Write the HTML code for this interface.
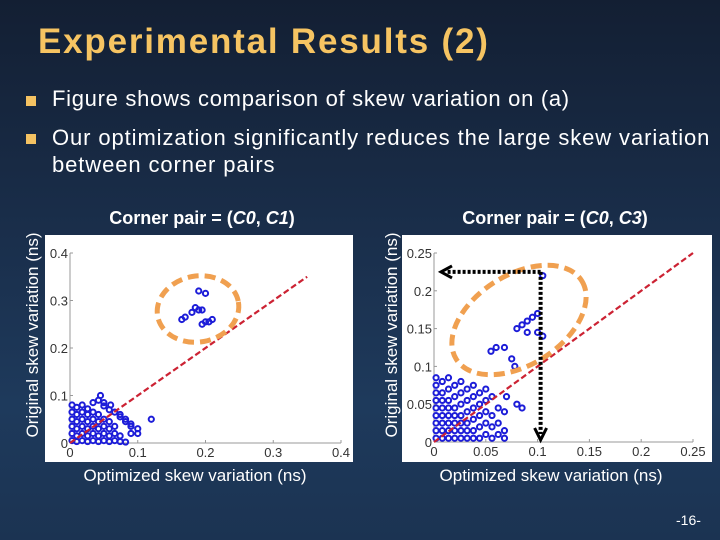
<!DOCTYPE html>
<html><head><meta charset="utf-8"><style>
html,body{margin:0;padding:0}
body{width:720px;height:540px;overflow:hidden;position:relative;background:linear-gradient(180deg,#131f33 0%,#1a2f4c 45%,#1e3a5c 75%,#1b3352 100%);font-family:"Liberation Sans",sans-serif}
.t{position:absolute;white-space:nowrap}
.bul{position:absolute;width:10px;height:10px;background:#f4c262}
</style></head><body>
<div class="t" style="left:38px;top:22px;font-size:35px;font-weight:bold;color:#f6c462;letter-spacing:1.8px">Experimental Results (2)</div>
<div class="bul" style="left:26px;top:96px"></div>
<div class="t" style="left:52px;top:86px;font-size:22px;color:#fff;letter-spacing:0.7px">Figure shows comparison of skew variation on (a)</div>
<div class="bul" style="left:26px;top:134px"></div>
<div class="t" style="left:52px;top:124px;font-size:22px;color:#fff;line-height:27px;letter-spacing:0.9px">Our optimization significantly reduces the large skew variation<br>between corner pairs</div>
<div class="t" style="left:676px;top:512px;font-size:14px;color:#fff">-16-</div>
<svg id="s" width="720" height="540" style="position:absolute;left:0;top:0"></svg>
<script>
// Left chart (C0,C1)
const leftXTicks=[0,0.1,0.2,0.3,0.4];
const leftYTicks=[0,0.1,0.2,0.3,0.4];
const leftX=[0.003,0.003,0.003,0.003,0.003,0.003,0.01,0.01,0.01,0.01,0.01,0.01,0.018,0.018,0.018,0.018,0.018,0.018,0.026,0.026,0.026,0.026,0.026,0.026,0.034,0.034,0.034,0.034,0.034,0.034,0.042,0.042,0.042,0.042,0.042,0.042,0.05,0.05,0.05,0.05,0.05,0.05,0.058,0.058,0.058,0.058,0.058,0.066,0.066,0.066,0.066,0.074,0.074,0.074,0.074,0.082,0.082,0.082,0.09,0.09,0.09,0.1,0.1,0.12,0.045,0.06,0.165,0.17,0.18,0.19,0.185,0.195,0.19,0.2,0.195,0.2,0.21,0.205];
const leftY=[0.005,0.02,0.035,0.05,0.065,0.08,0.003,0.015,0.03,0.045,0.06,0.075,0.005,0.02,0.035,0.05,0.065,0.08,0.003,0.015,0.03,0.045,0.06,0.072,0.005,0.02,0.035,0.05,0.065,0.085,0.003,0.015,0.03,0.045,0.06,0.09,0.005,0.02,0.035,0.05,0.078,0.085,0.003,0.015,0.03,0.045,0.07,0.005,0.02,0.035,0.065,0.003,0.015,0.06,0.055,0.002,0.05,0.045,0.04,0.035,0.02,0.02,0.03,0.05,0.1,0.08,0.26,0.265,0.275,0.28,0.285,0.28,0.32,0.315,0.25,0.255,0.26,0.255];
// Right chart (C0,C3)
const rightXTicks=[0,0.05,0.1,0.15,0.2,0.25];
const rightYTicks=[0,0.05,0.1,0.15,0.2,0.25];
const rightX=[0.002,0.002,0.002,0.002,0.002,0.002,0.002,0.002,0.002,0.008,0.008,0.008,0.008,0.008,0.008,0.008,0.008,0.014,0.014,0.014,0.014,0.014,0.014,0.014,0.014,0.02,0.02,0.02,0.02,0.02,0.02,0.02,0.026,0.026,0.026,0.026,0.026,0.026,0.026,0.032,0.032,0.032,0.032,0.032,0.032,0.038,0.038,0.038,0.038,0.038,0.038,0.044,0.044,0.044,0.044,0.044,0.05,0.05,0.05,0.05,0.05,0.056,0.056,0.056,0.056,0.062,0.062,0.062,0.068,0.068,0.068,0.07,0.08,0.085,0.055,0.06,0.075,0.08,0.085,0.09,0.095,0.1,0.09,0.1,0.105,0.068,0.078,0.105];
const rightY=[0.005,0.015,0.025,0.035,0.045,0.055,0.065,0.075,0.085,0.005,0.015,0.025,0.035,0.045,0.055,0.065,0.08,0.005,0.015,0.025,0.035,0.045,0.055,0.07,0.085,0.005,0.015,0.025,0.035,0.045,0.06,0.075,0.005,0.015,0.025,0.035,0.05,0.065,0.08,0.005,0.015,0.025,0.04,0.055,0.07,0.005,0.015,0.03,0.045,0.06,0.075,0.005,0.02,0.035,0.05,0.065,0.01,0.025,0.04,0.055,0.07,0.005,0.02,0.035,0.06,0.01,0.025,0.045,0.005,0.015,0.04,0.06,0.05,0.045,0.12,0.125,0.11,0.15,0.155,0.16,0.165,0.17,0.145,0.145,0.14,0.125,0.1,0.22];

const NS='http://www.w3.org/2000/svg';
const svg=document.getElementById('s');
function mk(tag,attrs,parent){const e=document.createElementNS(NS,tag);for(const k in attrs)e.setAttribute(k,attrs[k]);(parent||svg).appendChild(e);return e;}

function chart(o){
  const g=mk('g',{});
  
  
  const bg=mk('rect',{x:o.bx,y:235,width:o.bw,height:227,fill:'#fff'},g);
  
  
  const sx=v=>o.x0+(v/o.max)*(o.x1-o.x0);
  const sy=v=>o.y0-(v/o.max)*(o.y0-o.y1);
  mk('line',{x1:o.x0,y1:o.y0,x2:o.x1,y2:o.y0,stroke:'#999','stroke-width':1},g);
  mk('line',{x1:o.x0,y1:o.y0,x2:o.x0,y2:o.y1,stroke:'#999','stroke-width':1},g);
  o.xt.forEach(v=>{
    mk('line',{x1:sx(v),y1:o.y0,x2:sx(v),y2:o.y0-3,stroke:'#999'},g);
    const t=mk('text',{x:sx(v),y:o.y0+14,'font-size':13,'text-anchor':'middle',fill:'#333'},g);
    t.textContent=String(v);
    
    
  });
  o.yt.forEach(v=>{
    mk('line',{x1:o.x0,y1:sy(v),x2:o.x0+3,y2:sy(v),stroke:'#999'},g);
    const t=mk('text',{x:o.x0-2,y:sy(v)+5,'font-size':13,'text-anchor':'end',fill:'#333'},g);
    t.textContent=String(v);
    
    
  });
  o.xs.forEach((v,i)=>{
    const c=mk('circle',{cx:sx(v),cy:sy(o.ys[i]),r:2.6,fill:'none',stroke:'#1c1cd8','stroke-width':2},g);
    
    
  });
  const dl=mk('line',{x1:sx(0),y1:sy(0),x2:sx(o.lineEnd),y2:sy(o.lineEnd),stroke:'#cc2233','stroke-width':2.2,'stroke-dasharray':'6,3'},g);
  
  
  const el=mk('ellipse',{cx:o.ex,cy:o.ey,rx:o.erx,ry:o.ery,fill:'none',stroke:'#f0a050','stroke-width':5,'stroke-dasharray':'11,6',transform:`rotate(${o.rot} ${o.ex} ${o.ey})`},g);
  
  
  const tt=mk('text',{x:o.tx,y:224,'font-size':18,'font-weight':'bold','text-anchor':'middle',fill:'#fff'},g);
  tt.innerHTML=o.title;
  
  
  const xl=mk('text',{x:o.xlx,y:481,'font-size':17,'text-anchor':'middle',fill:'#fff'},g);
  xl.textContent='Optimized skew variation (ns)';
  
  
  const yl=mk('text',{x:0,y:0,'font-size':17,'text-anchor':'middle',fill:'#fff',transform:`translate(${o.ylx},335) rotate(-90)`},g);
  yl.textContent='Original skew variation (ns)';
  
  
  return {sx,sy,g};
}
chart({name:'chart-c0-c1',bx:45,bw:308,x0:70,x1:341,y0:443,y1:253,max:0.4,xt:leftXTicks,yt:leftYTicks,xs:leftX,ys:leftY,lineEnd:0.35,ex:198,ey:309,erx:41,ery:33,rot:-10,tx:202,title:'Corner pair = (<tspan font-style="italic">C0</tspan>, <tspan font-style="italic">C1</tspan>)',xlx:195,ylx:38});
const r=chart({name:'chart-c0-c3',bx:402,bw:310,x0:434,x1:693,y0:442,y1:253,max:0.25,xt:rightXTicks,yt:rightYTicks,xs:rightX,ys:rightY,lineEnd:0.25,ex:519,ey:320,erx:74,ery:45,rot:-32,tx:555,title:'Corner pair = (<tspan font-style="italic">C0</tspan>, <tspan font-style="italic">C3</tspan>)',xlx:551,ylx:397});
// arrows
const ax=r.sx(0.1)+3, ay=r.sy(0.225);
const va=mk('line',{x1:ax,y1:ay,x2:ax,y2:434,stroke:'#000','stroke-width':4,'stroke-dasharray':'3,2'});


const vh=mk('polyline',{points:`${ax-6},428 ${ax},440 ${ax+6},428`,fill:'none',stroke:'#000','stroke-width':3});


const ha=mk('line',{x1:ax,y1:ay,x2:446,y2:ay,stroke:'#000','stroke-width':4,'stroke-dasharray':'3,2'});


const hh=mk('polyline',{points:`452,${ay-6} 441,${ay} 452,${ay+6}`,fill:'none',stroke:'#000','stroke-width':3});


</script>
</body></html>
